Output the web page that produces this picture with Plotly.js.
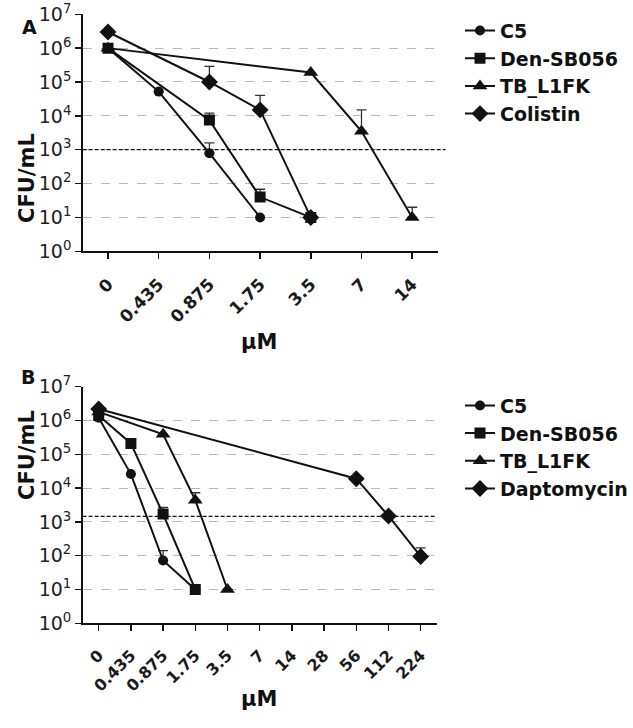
<!DOCTYPE html>
<html>
<head>
<meta charset="utf-8">
<script src="https://cdn.plot.ly/plotly-3.0.1.min.js"></script>
<style>html,body{margin:0;padding:0;background:#fff;}</style>
</head>
<body>
<div id="chart" style="width:633px;height:728px;"></div>
<script>
// ---------- Panel A data ----------
const catsA = ["0", "0.435", "0.875", "1.75", "3.5", "7", "14"];
const seriesNamesA = ["C5", "Den-SB056", "TB_L1FK", "Colistin"];
const c5A       = [1e6, 5.2e4, 790, 10, null, null, null];
const c5ErrA    = [0, 0, 800, 0, 0, 0, 0];
const denA      = [1e6, null, 7.5e3, 40, 10, null, null];
const denErrA   = [0, 0, 4.5e3, 28, 0, 0, 0];
const tbA       = [1e6, null, null, null, 1.9e5, 3.5e3, 10];
const tbErrA    = [0, 0, 0, 0, 0, 1.15e4, 10];
const colA      = [3e6, null, 1e5, 1.5e4, 10, null, null];
const colErrA   = [0, 0, 1.9e5, 2.5e4, 0, 0, 0];
const thresholdA = 1000;

// ---------- Panel B data ----------
const catsB = ["0", "0.435", "0.875", "1.75", "3.5", "7", "14", "28", "56", "112", "224"];
const seriesNamesB = ["C5", "Den-SB056", "TB_L1FK", "Daptomycin"];
const c5B       = [1.2e6, 2.6e4, 72, 10, null, null, null, null, null, null, null];
const c5ErrB    = [0, 0, 70, 0, 0, 0, 0, 0, 0, 0, 0];
const denB      = [1.4e6, 2.1e5, 1.7e3, 10, null, null, null, null, null, null, null];
const denErrB   = [0, 0, 1e3, 0, 0, 0, 0, 0, 0, 0, 0];
const tbB       = [1.8e6, null, 3.9e5, 4.4e3, 10, null, null, null, null, null, null];
const tbErrB    = [0, 0, 0, 2.9e3, 0, 0, 0, 0, 0, 0, 0];
const dapB      = [2.2e6, null, null, null, null, null, null, null, 1.9e4, 1.5e3, 95];
const dapErrB   = [0, 0, 0, 0, 0, 0, 0, 0, 0, 0, 75];
const thresholdB = 1450;

const yTickVals = [1, 10, 100, 1000, 1e4, 1e5, 1e6, 1e7];
const yTickText = ["10<sup>0</sup>", "10<sup>1</sup>", "10<sup>2</sup>", "10<sup>3</sup>",
                   "10<sup>4</sup>", "10<sup>5</sup>", "10<sup>6</sup>", "10<sup>7</sup>"];

const symbols = ["circle", "square", "triangle-up", "diamond"];
const sizes = [10, 11, 13, 13];
const INK = "#111111";

function mkTrace(x, y, err, name, i, xa, ya, leg) {
  return {
    type: "scatter", mode: "lines+markers",
    x: x, y: y, name: name, connectgaps: true,
    xaxis: xa, yaxis: ya, legend: leg,
    line: {color: INK, width: 2},
    marker: {symbol: symbols[i], size: sizes[i], color: INK},
    error_y: {type: "data", symmetric: false, array: err,
              arrayminus: err.map(() => 0), color: "#333", thickness: 1.3, width: 5}
  };
}

const data = [
  mkTrace(catsA, c5A, c5ErrA, seriesNamesA[0], 0, "x", "y", "legend"),
  mkTrace(catsA, denA, denErrA, seriesNamesA[1], 1, "x", "y", "legend"),
  mkTrace(catsA, tbA, tbErrA, seriesNamesA[2], 2, "x", "y", "legend"),
  mkTrace(catsA, colA, colErrA, seriesNamesA[3], 3, "x", "y", "legend"),
  mkTrace(catsB, c5B, c5ErrB, seriesNamesB[0], 0, "x2", "y2", "legend2"),
  mkTrace(catsB, denB, denErrB, seriesNamesB[1], 1, "x2", "y2", "legend2"),
  mkTrace(catsB, tbB, tbErrB, seriesNamesB[2], 2, "x2", "y2", "legend2"),
  mkTrace(catsB, dapB, dapErrB, seriesNamesB[3], 3, "x2", "y2", "legend2")
];

const FONT = "DejaVu Sans, Arial, sans-serif";

function xAxis(cats, domain, anchor, fs) {
  return {
    type: "category", categoryorder: "array", categoryarray: cats,
    range: [-0.5, cats.length - 0.5], domain: domain, anchor: anchor,
    showline: true, linecolor: INK, linewidth: 1.5,
    ticks: "outside", ticklen: 6, tickwidth: 1.5, tickcolor: INK,
    tickangle: -45, ticklabelstandoff: 9,
    tickfont: {family: FONT, size: fs, color: "#1a1a1a", weight: "bold"},
    showgrid: false, zeroline: false, fixedrange: true
  };
}
function yAxis(domain, anchor) {
  return {
    type: "log", range: [0, 7], domain: domain, anchor: anchor,
    tickvals: yTickVals, ticktext: yTickText,
    showline: true, linecolor: INK, linewidth: 1.5,
    ticks: "outside", ticklen: 6, tickwidth: 1.5, tickcolor: INK,
    tickfont: {family: FONT, size: 19, color: "#222"},
    showgrid: true, gridcolor: "#b8b8b8", gridwidth: 1, griddash: "dash",
    zeroline: false, fixedrange: true
  };
}

const legFont = {family: FONT, size: 19, color: "#111", weight: "bold"};

const layout = {
  width: 633, height: 728, autosize: false,
  margin: {l: 0, r: 0, t: 0, b: 0},
  paper_bgcolor: "#fff", plot_bgcolor: "#fff",
  font: {family: FONT, color: INK},
  xaxis: xAxis(catsA, [0.131, 0.6934], "y", 17),
  yaxis: yAxis([0.6548, 0.9804], "x"),
  xaxis2: xAxis(catsB, [0.1309, 0.6922], "y2", 16),
  yaxis2: yAxis([0.1438, 0.4688], "x2"),
  showlegend: true,
  legend: {x: 0.729, xanchor: "left", y: 0.984, yanchor: "top",
           font: legFont, bgcolor: "rgba(0,0,0,0)", itemclick: false},
  legend2: {x: 0.729, xanchor: "left", y: 0.469, yanchor: "top",
            font: legFont, bgcolor: "rgba(0,0,0,0)", itemclick: false},
  shapes: [
    {type: "line", xref: "paper", yref: "y", x0: 0.131, x1: 447 / 633,
     y0: thresholdA, y1: thresholdA, line: {color: INK, width: 1.3, dash: "4px,2px"}},
    {type: "line", xref: "paper", yref: "y2", x0: 0.1309, x1: 437 / 633,
     y0: thresholdB, y1: thresholdB, line: {color: INK, width: 1.3, dash: "4px,2px"}}
  ],
  annotations: [
    {text: "<b>A</b>", xref: "paper", yref: "paper", x: 20 / 633, y: 1 - 14 / 728,
     showarrow: false, font: {family: FONT, size: 19, color: INK}},
    {text: "<b>B</b>", xref: "paper", yref: "paper", x: 19 / 633, y: 1 - 377 / 728,
     showarrow: false, font: {family: FONT, size: 19, color: INK}},
    {text: "<b>CFU/mL</b>", xref: "paper", yref: "paper", x: 13 / 633, y: 1 - 131 / 728,
     textangle: -90, showarrow: false, font: {family: FONT, size: 21, color: INK}},
    {text: "<b>CFU/mL</b>", xref: "paper", yref: "paper", x: 13 / 633, y: 1 - 502 / 728,
     textangle: -90, showarrow: false, font: {family: FONT, size: 21, color: INK}},
    {text: "<b>μM</b>", xref: "paper", yref: "paper", x: 260 / 633, y: 1 - 342 / 728,
     showarrow: false, font: {family: FONT, size: 21, color: INK}},
    {text: "<b>μM</b>", xref: "paper", yref: "paper", x: 260 / 633, y: 1 - 713 / 728,
     showarrow: false, font: {family: FONT, size: 21, color: INK}}
  ]
};

Plotly.newPlot("chart", data, layout, {staticPlot: true, displayModeBar: false});
</script>
</body>
</html>
